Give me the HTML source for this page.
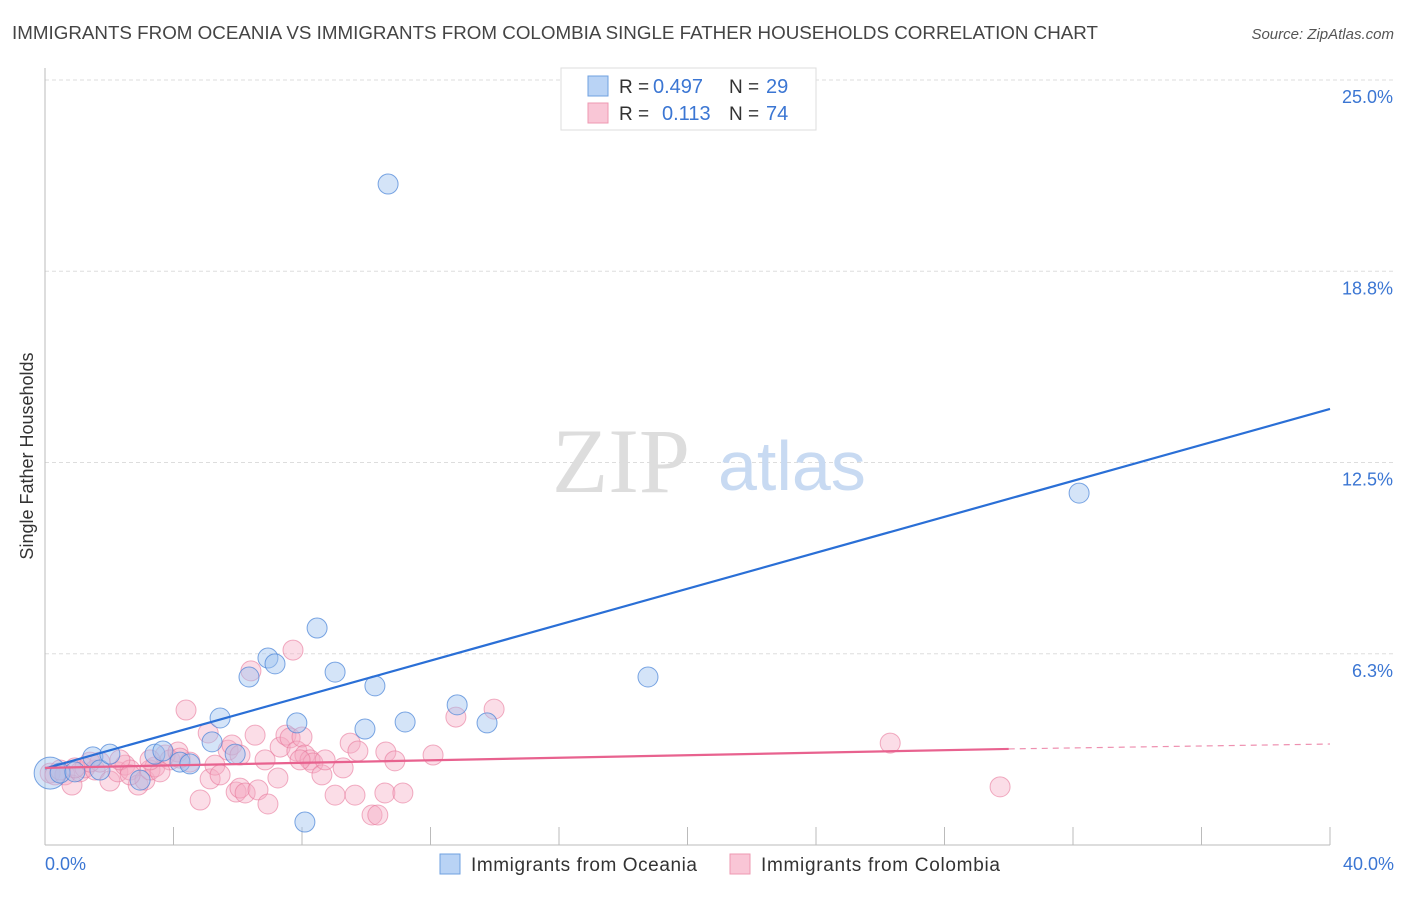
<!DOCTYPE html>
<html><head><meta charset="utf-8"><style>
body{margin:0;background:#fff;font-family:"Liberation Sans",sans-serif}
</style></head><body>
<svg width="1406" height="892" xmlns="http://www.w3.org/2000/svg" font-family="Liberation Sans, sans-serif">
<text x="12" y="39" font-size="18" fill="#444" textLength="1086" lengthAdjust="spacingAndGlyphs">IMMIGRANTS FROM OCEANIA VS IMMIGRANTS FROM COLOMBIA SINGLE FATHER HOUSEHOLDS CORRELATION CHART</text>
<text x="1394" y="39" font-size="15" fill="#555" text-anchor="end" font-style="italic">Source: ZipAtlas.com</text>
<g id="grid"></g>
<text x="690" y="492" font-size="92" fill="#ddd" text-anchor="end" font-family="Liberation Serif, serif">ZIP</text>
<text x="718" y="490" font-size="70" fill="#c8daf2">atlas</text>
<text x="33" y="456" font-size="18" fill="#333" text-anchor="middle" transform="rotate(-90 33 456)">Single Father Households</text>
<g id="marks"></g>
<g>
<rect x="561" y="68" width="255" height="62" fill="#fff" stroke="#ddd"/>
<rect x="588" y="76" width="20" height="20" fill="#b9d3f5" stroke="#6fa0e0"/>
<rect x="588" y="103" width="20" height="20" fill="#f9c6d6" stroke="#ee98b2"/>
<text x="619" y="93" font-size="19" fill="#333">R =</text>
<text x="653" y="93" font-size="20" fill="#3b76d3">0.497</text>
<text x="729" y="93" font-size="19" fill="#333">N =</text>
<text x="766" y="93" font-size="20" fill="#3b76d3">29</text>
<text x="619" y="120" font-size="19" fill="#333">R =</text>
<text x="662" y="120" font-size="20" fill="#3b76d3">0.113</text>
<text x="729" y="120" font-size="19" fill="#333">N =</text>
<text x="766" y="120" font-size="20" fill="#3b76d3">74</text>
</g>
<g>
<rect x="440" y="854" width="20" height="20" fill="#b9d3f5" stroke="#6fa0e0"/>
<text x="471" y="871" font-size="19" fill="#333" textLength="226">Immigrants from Oceania</text>
<rect x="730" y="854" width="20" height="20" fill="#f9c6d6" stroke="#ee98b2"/>
<text x="761" y="871" font-size="19" fill="#333" textLength="239">Immigrants from Colombia</text>
</g>
</svg>
<script>
const yTicks=[25.0,18.75,12.5,6.25];
const yTickLabels=["25.0%","18.8%","12.5%","6.3%"];
const xTickLabels=["0.0%","40.0%"];
const oceaniaX=[0.16,0.47,0.93,1.49,1.71,2.02,2.96,3.42,3.67,4.2,4.51,5.2,5.45,5.92,6.35,6.94,7.16,7.84,8.09,8.47,9.03,9.96,10.27,11.21,12.83,13.76,10.68,18.77,32.19];
const oceaniaY=[2.35,2.35,2.39,2.88,2.45,2.97,2.12,2.97,3.07,2.71,2.65,3.37,4.15,2.97,5.49,6.11,5.92,3.99,0.75,7.09,5.65,3.79,5.2,4.02,4.58,3.99,21.6,5.49,11.5];
const colombiaX=[0.16,0.31,0.62,0.84,1.09,1.24,1.56,1.71,2.02,2.27,2.49,2.65,2.9,3.11,3.27,3.42,3.74,3.89,4.14,4.39,4.51,4.83,5.08,5.14,5.29,5.45,5.7,5.82,5.95,6.07,6.23,6.41,6.54,6.63,6.94,7.25,7.32,7.5,7.63,7.72,7.84,8.0,8.09,8.25,8.34,8.62,8.72,9.03,9.28,9.5,9.65,9.74,10.18,10.36,10.61,10.89,10.58,11.14,12.08,12.79,13.98,26.31,29.73,0.93,1.4,2.33,3.58,4.2,0.47,2.65,6.07,7.94,6.85,3.27];
const colombiaY=[2.35,2.29,2.29,1.96,2.39,2.52,2.45,2.71,2.09,2.39,2.61,2.45,1.96,2.12,2.45,2.55,2.94,2.78,3.04,4.41,2.71,1.47,3.66,2.16,2.61,2.29,3.1,3.27,1.73,1.86,1.7,5.69,3.59,1.8,1.34,2.19,3.2,3.59,3.5,6.37,3.07,3.53,2.94,2.78,2.68,2.29,2.78,1.63,2.52,3.33,1.63,3.07,0.98,0.98,3.04,2.75,1.7,1.7,2.94,4.18,4.44,3.33,1.9,2.52,2.71,2.78,2.39,2.84,2.45,2.29,2.94,2.78,2.78,2.78];
const oceaniaLine=[[0,2.5],[40,14.25]];
const colombiaLine=[[0,2.52],[30,3.14],[40,3.3]];
const X=v=>45+v/40*1285, Y=v=>845-v*30.6;
const NS="http://www.w3.org/2000/svg";
function mk(t,a,p){const e=document.createElementNS(NS,t);for(const k in a)e.setAttribute(k,a[k]);p.appendChild(e);return e;}
const g=document.getElementById('grid'), m=document.getElementById('marks');
yTicks.forEach((v,i)=>{
 const l=mk('line',{x1:45,x2:1394,y1:Y(v),y2:Y(v),stroke:'#ddd','stroke-dasharray':'4,3'},g);
 
 
 const t=mk('text',{x:1393,y:Y(v)+23,'font-size':18,fill:'#3b76d3','text-anchor':'end'},g);
 t.textContent=yTickLabels[i];
 
 
});
const ax=mk('line',{x1:45,x2:45,y1:68,y2:845,stroke:'#bbb'},g);


const bx=mk('line',{x1:45,x2:1330,y1:845,y2:845,stroke:'#bbb'},g);


for(let i=1;i<=10;i++){const t=mk('line',{x1:X(i*4),x2:X(i*4),y1:827,y2:845,stroke:'#bbb'},g);
 
 }
xTickLabels.forEach((s,i)=>{const t=mk('text',{x:i?1394:45,y:870,'font-size':18,fill:'#3b76d3','text-anchor':i?'end':'start'},g);t.textContent=s;
 
 });
colombiaX.forEach((v,i)=>{const c=mk('circle',{cx:X(v),cy:Y(colombiaY[i]),r:10,fill:'rgba(246,170,195,0.4)',stroke:'rgba(232,120,155,0.6)'},m);
 
 });
oceaniaX.forEach((v,i)=>{const c=mk('circle',{cx:X(v),cy:Y(oceaniaY[i]),r:i===0?16:10,fill:'rgba(160,195,240,0.45)',stroke:'rgba(70,130,215,0.7)'},m);
 
 });
const bl=mk('line',{x1:X(oceaniaLine[0][0]),y1:Y(oceaniaLine[0][1]),x2:X(oceaniaLine[1][0]),y2:Y(oceaniaLine[1][1]),stroke:'#2a6fd6','stroke-width':2.2},m);


const pl=mk('line',{x1:X(colombiaLine[0][0]),y1:Y(colombiaLine[0][1]),x2:X(colombiaLine[1][0]),y2:Y(colombiaLine[1][1]),stroke:'#e8628f','stroke-width':2.2},m);


const pd=mk('line',{x1:X(colombiaLine[1][0]),y1:Y(colombiaLine[1][1]),x2:X(colombiaLine[2][0]),y2:Y(colombiaLine[2][1]),stroke:'#e8628f','stroke-width':1.2,'stroke-dasharray':'6,5',opacity:0.7},m);


</script>
</body></html>
